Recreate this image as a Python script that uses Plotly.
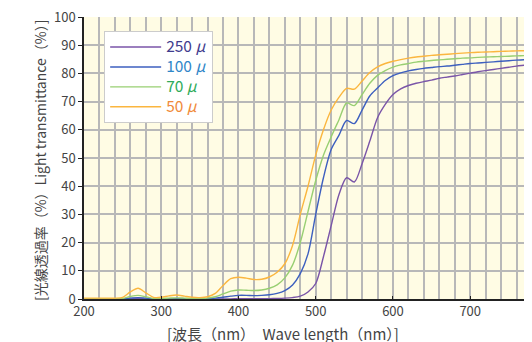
import plotly.graph_objects as go

wavelength = list(range(200, 790, 10))

t250 = [0.05, 0.05, 0.05, 0.05, 0.05, 0.05, 0.05, 0.1, 0.05, 0.05,
        0.05, 0.05, 0.05, 0.05, 0.05, 0.05, 0.05, 0.05, 0.05, 0.05,
        0.1, 0.1, 0.1, 0.1, 0.15, 0.2, 0.3, 0.5, 1.0, 2.5,
        5.5, 15, 26, 37, 43, 41.5, 48, 56, 64.3, 69,
        72.5, 74.5, 75.7, 76.5, 77.1, 77.6, 78.3, 78.7, 79.1, 79.6,
        80.1, 80.6, 81.0, 81.4, 81.8, 82.2, 82.6, 82.9, 83.2]
t100 = [0.05, 0.05, 0.05, 0.05, 0.05, 0.05, 0.3, 0.5, 0.3, 0.1,
        0.1, 0.1, 0.1, 0.1, 0.1, 0.1, 0.15, 0.3, 0.6, 1.0,
        1.3, 1.3, 1.2, 1.3, 1.5, 2.0, 3.0, 5.0, 9, 16,
        30, 43, 53, 58, 63.3, 62.2, 67, 72, 74.8, 77.5,
        79.2, 80.2, 80.9, 81.4, 81.8, 82.1, 82.4, 82.6, 82.9, 83.2,
        83.5, 83.7, 83.9, 84.1, 84.3, 84.5, 84.7, 84.85, 85.0]
t70 = [0.1, 0.1, 0.1, 0.1, 0.1, 0.2, 0.9, 1.3, 0.8, 0.2,
       0.2, 0.3, 0.4, 0.3, 0.2, 0.2, 0.3, 0.8, 1.8, 2.8,
       3.2, 3.1, 3.0, 3.2, 3.8, 5.0, 7.5, 12, 20, 31,
       42, 51, 57.5, 63.5, 69.5, 68.6, 72.5, 76.5, 79.3, 81,
       82.2, 83, 83.5, 84, 84.3, 84.6, 84.8, 85, 85.2, 85.4,
       85.5, 85.7, 85.8, 85.9, 86.0, 86.1, 86.2, 86.3, 86.35]
t50 = [0.3, 0.3, 0.3, 0.3, 0.3, 0.6, 2.5, 3.8, 2.2, 0.6,
       0.6, 1.1, 1.4, 1.0, 0.6, 0.5, 0.8, 2.0, 4.8, 7.2,
       7.7, 7.4, 6.9, 7.0, 7.8, 9.5, 12.5, 19, 30, 40,
       51, 60, 67, 71.5, 74.7, 74.4, 77.3, 80.3, 82.3, 83.5,
       84.3, 84.9, 85.4, 85.8, 86.1, 86.4, 86.6, 86.8, 87.0, 87.2,
       87.35, 87.5, 87.6, 87.7, 87.8, 87.9, 88.0, 88.05, 88.1]

series = [
    ("250", t250, "#7a55a8", "#3f3c8e"),
    ("100", t100, "#3d5fbf", "#2f86c8"),
    ("70", t70, "#98cf72", "#2eab5a"),
    ("50", t50, "#fbb63f", "#f08a3a"),
]

FONT = "Noto Sans CJK JP"

fig = go.Figure()
for name, vals, lc, tc in series:
    fig.add_trace(go.Scatter(
        x=wavelength, y=vals, mode="lines",
        line=dict(color=lc, width=1.4, shape="spline", smoothing=0.8),
        name=f'<span style="color:{tc};font-size:15.5px">{name} <i>μ</i></span>',
    ))

fig.update_layout(
    width=524, height=334,
    margin=dict(l=76, r=0, t=9, b=43, autoexpand=False),
    paper_bgcolor="white",
    plot_bgcolor="#fffce4",
    font=dict(family=FONT, size=13, color="#444"),
    showlegend=True,
    legend=dict(
        x=0.045, y=0.95, xanchor="left", yanchor="top",
        bgcolor="white", bordercolor="#cccccc", borderwidth=1,
        font=dict(family=FONT, size=13),
        itemwidth=51, tracegroupgap=0,
    ),
    xaxis=dict(
        range=[200, 780], dtick=100, tick0=200,
        showgrid=True, gridcolor="#b8b8b8", gridwidth=1.5,
        minor=dict(dtick=20, showgrid=True, gridcolor="#b8b8b8", gridwidth=1.5),
        ticks="inside", ticklen=3, tickcolor="#222",
        showline=True, linecolor="#222", linewidth=1.5,
        zeroline=False, tickfont=dict(size=13, color="#444"),
        ticklabeloverflow="allow",
    ),
    yaxis=dict(
        range=[0, 100], dtick=10,
        showgrid=True, gridcolor="#b8b8b8", gridwidth=1.5,
        ticks="outside", ticklen=4, tickcolor="#222",
        showline=True, linecolor="#222", linewidth=1.5,
        zeroline=False, tickfont=dict(size=13, color="#444"),
        ticklabeloverflow="allow",
    ),
    annotations=[
        dict(text="[波長（nm）　Wave length（nm）]", xref="paper", yref="paper",
             x=0.444, y=-0.122, xanchor="center", yanchor="middle", showarrow=False,
             font=dict(family=FONT, size=15, color="#444")),
        dict(text="[光線透過率（%）Light transmittance（%）]", xref="paper", yref="paper",
             x=-0.098, y=0.493, xanchor="center", yanchor="middle", showarrow=False,
             textangle=-90, font=dict(family=FONT, size=14, color="#444")),
    ],
)

fig.write_html("out.html")
